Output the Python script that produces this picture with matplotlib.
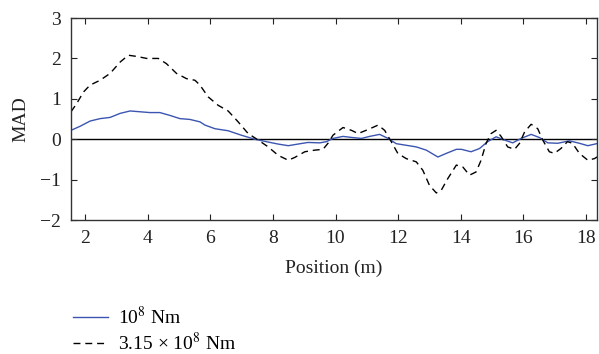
import numpy as np
import matplotlib.pyplot as plt

plt.rcParams['font.family'] = ['Liberation Serif', 'DejaVu Serif']
plt.rcParams['mathtext.fontset'] = 'stix'

# 10^8 Nm (blue solid)
pos_a = [1.55, 1.84, 2.16, 2.48, 2.8, 3.12, 3.44, 3.75, 4.07, 4.39, 4.71, 5.03,
         5.35, 5.67, 5.83, 6.15, 6.57, 6.99, 7.42, 7.85, 8.17, 8.49, 8.8, 9.12,
         9.5, 9.71, 9.92, 10.24, 10.56, 10.83, 11.09, 11.41, 11.68, 11.94, 12.26,
         12.58, 12.9, 13.27, 13.54, 13.86, 14.02, 14.33, 14.6, 14.86, 15.13, 15.4,
         15.66, 15.93, 16.25, 16.52, 16.78, 17.1, 17.47, 17.79, 18.06, 18.4]
mad_a = [0.22, 0.32, 0.45, 0.51, 0.54, 0.64, 0.70, 0.68, 0.66, 0.66, 0.59, 0.51,
         0.49, 0.43, 0.35, 0.26, 0.21, 0.10, 0.0, -0.07, -0.12, -0.16, -0.12, -0.08,
         -0.09, -0.06, 0.02, 0.07, 0.04, 0.02, 0.07, 0.12, 0.02, -0.11, -0.15,
         -0.19, -0.27, -0.44, -0.35, -0.25, -0.25, -0.31, -0.23, -0.06, 0.06, -0.02,
         -0.09, 0.02, 0.12, 0.04, -0.09, -0.10, -0.04, -0.10, -0.16, -0.10]

# 3.15 x 10^8 Nm (black dashed)
pos_b = [1.55, 1.73, 1.95, 2.16, 2.48, 2.8, 3.12, 3.38, 3.65, 3.97, 4.34, 4.6,
         4.92, 5.24, 5.51, 5.67, 5.93, 6.25, 6.57, 6.89, 7.21, 7.53, 7.85, 8.17,
         8.49, 8.7, 9.02, 9.34, 9.6, 9.76, 9.92, 10.24, 10.51, 10.72, 11.04, 11.36,
         11.57, 11.78, 11.99, 12.26, 12.58, 12.79, 13.0, 13.22, 13.38, 13.59, 13.86,
         14.07, 14.28, 14.49, 14.65, 14.81, 14.97, 15.13, 15.29, 15.5, 15.72, 15.88,
         16.04, 16.25, 16.46, 16.62, 16.83, 16.99, 17.2, 17.41, 17.57, 17.79, 18.06,
         18.27, 18.4]
mad_b = [0.68, 0.88, 1.17, 1.34, 1.46, 1.63, 1.91, 2.08, 2.05, 2.0, 2.0, 1.87,
         1.63, 1.5, 1.46, 1.34, 1.05, 0.84, 0.70, 0.43, 0.14, -0.02, -0.19, -0.40,
         -0.52, -0.45, -0.31, -0.27, -0.25, -0.10, 0.10, 0.29, 0.22, 0.14, 0.24, 0.35,
         0.22, -0.06, -0.35, -0.48, -0.56, -0.77, -1.14, -1.33, -1.26, -0.97, -0.64,
         -0.69, -0.89, -0.81, -0.52, -0.10, 0.14, 0.22, 0.07, -0.19, -0.25, -0.10,
         0.18, 0.37, 0.26, -0.02, -0.31, -0.35, -0.23, -0.06, -0.10, -0.35, -0.52,
         -0.48, -0.42]

fig = plt.figure(figsize=(5.99, 3.54), dpi=100)
ax = fig.add_axes([0.1185, 0.3785, 0.878, 0.5705])

ax.axhline(0, color='black', lw=1.0, zorder=1)
ax.plot(pos_a, mad_a, color='#3b55b0', lw=1.0, label=r'10$^8$ Nm')
ax.plot(pos_b, mad_b, color='black', lw=1.0, linestyle=(0, (5, 3.5)),
        label='3.15 \u00d7 10$^8$ Nm')

ax.set_xlim(1.55, 18.35)
ax.set_ylim(-2, 3)
ax.set_xticks(np.arange(2, 19, 2))
ax.set_yticks(np.arange(-2, 4, 1))
ax.set_yticklabels(['\u22122', '\u22121', '0', '1', '2', '3'])
ax.tick_params(direction='in', top=True, right=True, labelsize=14, length=4,
               width=0.8, colors='#222222', labelcolor='#222222', pad=7)
for s in ax.spines.values():
    s.set_linewidth(1.0)
    s.set_color('#333333')

ax.set_xlabel('Position (m)', fontsize=14, labelpad=9, color='#222222')
ax.set_ylabel('MAD', fontsize=14, labelpad=8, color='#222222')

fig.legend(loc='lower left', bbox_to_anchor=(0.092, -0.05), frameon=False,
           fontsize=14, handlelength=1.8, handletextpad=0.55, labelspacing=0.2)

fig.savefig('out.png', dpi=100)
